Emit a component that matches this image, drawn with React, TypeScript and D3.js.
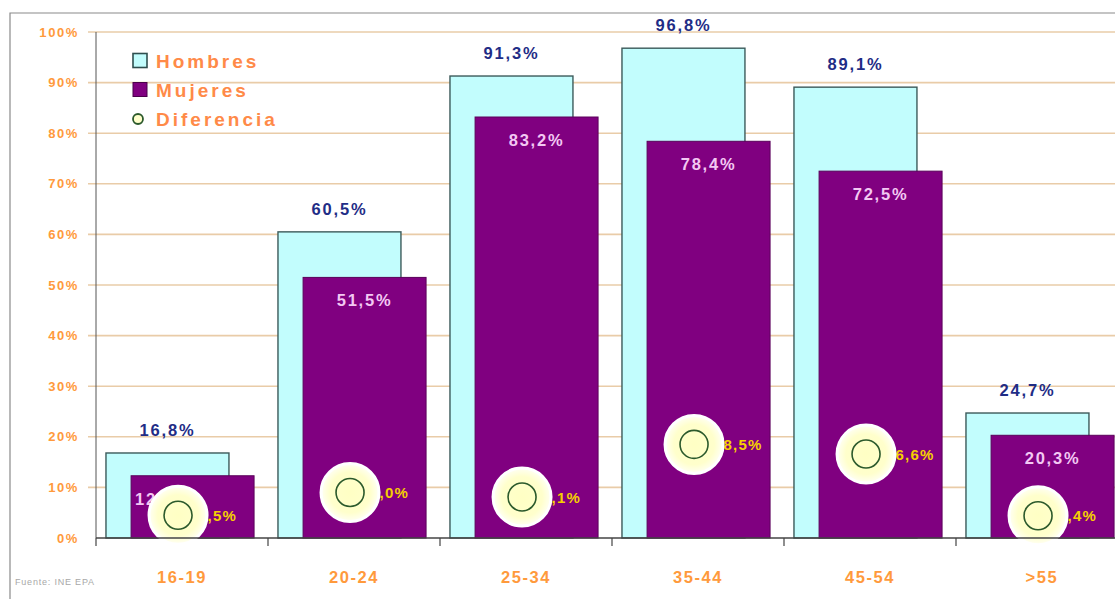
import * as d3 from "d3";

const categories = ["16-19", "20-24", "25-34", "35-44", "45-54", ">55"];
const hombres = [16.8, 60.5, 91.3, 96.8, 89.1, 24.7];
const mujeres = [12.3, 51.5, 83.2, 78.4, 72.5, 20.3];
const diferencia = [4.5, 9.0, 8.1, 18.5, 16.6, 4.4];
const yTicks = [0, 10, 20, 30, 40, 50, 60, 70, 80, 90, 100];
const legendItems = ["Hombres", "Mujeres", "Diferencia"];

const W = 1115;
const H = 599;
const font = "'Liberation Sans', Arial, sans-serif";

const orange = "#ff9a3c";
const cyanFill = "#c2fdfd";
const purple = "#800080";
const navy = "#1f2d86";

const fmt = (v: number) => v.toFixed(1).replace(".", ",") + "%";

export default function App() {
  // plot area
  const left = 96;
  const step = 172;
  const y = d3.scaleLinear().domain([0, 100]).range([538, 32]);
  const x = d3
    .scaleBand<string>()
    .domain(categories)
    .range([left, left + categories.length * step])
    .padding(0);
  const bw = x.bandwidth();

  // sub-positions of the two overlapping bars inside a band
  const hOff = bw * 0.058;
  const mOff = bw * 0.204;
  const barW = bw * 0.715;
  const haloR = 29;

  return (
    <svg
      width={W}
      height={H}
      style={{ position: "absolute", left: 0, top: 0, background: "#fff" }}
      fontFamily={font}
    >
      <defs>
        <radialGradient id="halo">
          <stop offset="0%" stopColor="#ffffc4" />
          <stop offset="70%" stopColor="#ffffcc" />
          <stop offset="100%" stopColor="#fffff4" />
        </radialGradient>
      </defs>

      {/* outer frame */}
      <path d={`M10,${H} V13 H${W}`} fill="none" stroke="#8a8a8a" strokeWidth={1.2} />

      {/* gridlines */}
      {yTicks.filter((t) => t > 0).map((t) => (
        <line
          key={t}
          x1={88}
          x2={W}
          y1={y(t)}
          y2={y(t)}
          stroke="#e9cca8"
          strokeWidth={1.6}
        />
      ))}

      {/* y axis labels */}
      {yTicks.map((t) => (
        <text
          key={t}
          x={79}
          y={y(t) + 4.5}
          textAnchor="end"
          fontSize={13}
          fontWeight="bold"
          letterSpacing={1.6}
          fill={orange}
        >
          {t}%
        </text>
      ))}
      <line x1={left} x2={left} y1={y(100)} y2={y(0)} stroke="#555" strokeWidth={1} />

      {/* Hombres bars */}
      {categories.map((c, i) => (
        <rect
          key={"h" + c}
          x={(x(c) ?? 0) + hOff}
          y={y(hombres[i])}
          width={barW}
          height={y(0) - y(hombres[i])}
          fill={cyanFill}
          stroke="#3c5a5a"
          strokeWidth={1.4}
        />
      ))}

      {/* Mujeres bars */}
      {categories.map((c, i) => (
        <rect
          key={"m" + c}
          x={(x(c) ?? 0) + mOff}
          y={y(mujeres[i])}
          width={barW}
          height={y(0) - y(mujeres[i])}
          fill={purple}
          stroke="#5a005a"
          strokeWidth={1}
        />
      ))}

      {/* Hombres labels */}
      {categories.map((c, i) => (
        <text
          key={"hl" + c}
          x={(x(c) ?? 0) + hOff + barW / 2}
          y={y(hombres[i]) - 17}
          textAnchor="middle"
          fontSize={16.5}
          fontWeight="bold"
          letterSpacing={1.8}
          fill={navy}
        >
          {fmt(hombres[i])}
        </text>
      ))}

      {/* Mujeres labels (short bar: label pushed to the left edge) */}
      {categories.map((c, i) => {
        const base = y(mujeres[i]) + 29;
        const clash = base > y(diferencia[i]) - haloR;
        return (
          <text
            key={"ml" + c}
            x={clash ? (x(c) ?? 0) + mOff + 4 : (x(c) ?? 0) + mOff + barW / 2}
            y={base}
            textAnchor={clash ? "start" : "middle"}
            fontSize={16.5}
            fontWeight="bold"
            letterSpacing={1.8}
            fill="#f3c8f3"
          >
            {fmt(mujeres[i])}
          </text>
        );
      })}

      {/* Diferencia labels */}
      {categories.map((c, i) => (
        <text
          key={"dl" + c}
          x={(x(c) ?? 0) + bw * 0.477 + 20}
          y={y(diferencia[i]) + 5.5}
          fontSize={15}
          fontWeight="bold"
          letterSpacing={1.2}
          fill="#f5d000"
        >
          {fmt(diferencia[i])}
        </text>
      ))}

      {/* Diferencia markers with halo */}
      {categories.map((c, i) => {
        const cx = (x(c) ?? 0) + bw * 0.477;
        const cy = y(diferencia[i]);
        return (
          <g key={"d" + c}>
            <circle cx={cx} cy={cy} r={haloR} fill="url(#halo)" stroke="#fff" strokeWidth={3} />
            <circle cx={cx} cy={cy} r={14} fill="none" stroke="#2c5a2c" strokeWidth={1.6} />
          </g>
        );
      })}

      {/* x axis */}
      <line x1={left} x2={W} y1={y(0)} y2={y(0)} stroke="#444" strokeWidth={1.4} />
      {categories.map((c) => (
        <line
          key={"t" + c}
          x1={x(c) ?? 0}
          x2={x(c) ?? 0}
          y1={y(0)}
          y2={y(0) + 8}
          stroke="#444"
          strokeWidth={1.2}
        />
      ))}
      {categories.map((c) => (
        <text
          key={"xl" + c}
          x={(x(c) ?? 0) + bw / 2}
          y={583}
          textAnchor="middle"
          fontSize={16.5}
          fontWeight="bold"
          letterSpacing={1.6}
          fill={orange}
        >
          {c}
        </text>
      ))}

      {/* source */}
      <text x={15} y={585} fontSize={9} fill="#a8a8a8" letterSpacing={0.8}>
        Fuente: INE EPA
      </text>

      {/* legend */}
      {legendItems.map((name, i) => {
        const ly = 61 + i * 29;
        return (
          <g key={name}>
            {i === 0 && (
              <rect x={133} y={ly - 7.5} width={14} height={14} fill={cyanFill} stroke="#2f4f4f" strokeWidth={1.6} />
            )}
            {i === 1 && (
              <rect x={133} y={ly - 7.5} width={14} height={14} fill={purple} stroke="#4a004a" strokeWidth={1} />
            )}
            {i === 2 && (
              <circle cx={138} cy={ly} r={5} fill="#ffffcc" stroke="#2c5a2c" strokeWidth={1.8} />
            )}
            <text
              x={156}
              y={ly + 7}
              fontSize={19}
              fontWeight="bold"
              letterSpacing={3}
              fill="#ff8a48"
            >
              {name}
            </text>
          </g>
        );
      })}
    </svg>
  );
}
